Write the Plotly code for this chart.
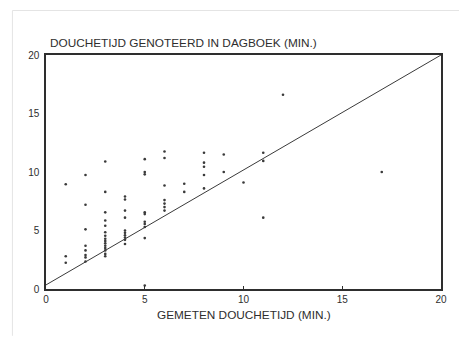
import plotly.graph_objects as go

# Measured (x) vs diary-recorded (y) shower time, minutes
measured = [1, 1, 1,
            2, 2, 2, 2, 2, 2, 2, 2,
            3, 3, 3, 3, 3, 3, 3, 3, 3, 3, 3, 3, 3, 3, 3,
            4, 4, 4, 4, 4, 4, 4, 4, 4, 4,
            5, 5, 5, 5, 5, 5, 5, 5, 5, 5,
            6, 6, 6, 6, 6, 6, 6,
            7, 7,
            8, 8, 8, 8, 8,
            9, 9,
            10,
            11, 11, 11,
            12,
            17]
diary = [8.95, 2.8, 2.25,
         9.75, 7.2, 5.1, 3.7, 3.3, 2.9, 2.7, 2.35,
         10.9, 8.3, 6.55, 5.85, 5.4, 4.85, 4.55, 4.3, 4.1, 3.9, 3.7, 3.5, 3.3, 3.0, 2.8,
         7.9, 7.65, 6.7, 6.1, 5.0, 4.8, 4.6, 4.4, 4.2, 3.85,
         11.1, 10.0, 9.8, 6.55, 6.4, 5.75, 5.55, 5.3, 4.35, 0.3,
         11.75, 11.2, 8.85, 7.6, 7.3, 7.0, 6.7,
         9.0, 8.3,
         11.65, 10.8, 10.45, 9.75, 8.6,
         11.5, 10.0,
         9.1,
         11.65, 10.95, 6.1,
         16.6,
         10.0]

fit_x = [0, 20]
fit_y = [0.35, 20]

x_ticks = [0, 5, 10, 15, 20]
y_ticks = [0, 5, 10, 15, 20]

ink = "#2e2e2e"
font = dict(family="Liberation Sans, Arial, sans-serif", size=10, color=ink)
title_font = dict(family="Liberation Sans, Arial, sans-serif", size=11.8, color=ink)

fig = go.Figure()
fig.add_trace(go.Scatter(x=fit_x, y=fit_y, mode="lines",
                         line=dict(color="#3a3a3a", width=1), hoverinfo="skip"))
fig.add_trace(go.Scatter(x=measured, y=diary, mode="markers",
                         marker=dict(size=2.6, color="#3a3a3a", line=dict(width=0))))

fig.update_layout(
    width=467, height=337,
    margin=dict(l=38, r=34, t=47, b=56),
    paper_bgcolor="white", plot_bgcolor="white",
    showlegend=False,
    font=font,
    xaxis=dict(range=[0, 20], tickvals=x_ticks, ticktext=[str(v) for v in x_ticks],
               showgrid=False, zeroline=False, showline=True, mirror=True,
               linecolor=ink, linewidth=1.5, ticks="inside", ticklen=3,
               tickcolor=ink, tickfont=font),
    yaxis=dict(range=[0, 20], tickvals=y_ticks, ticktext=[str(v) for v in y_ticks],
               showgrid=False, zeroline=False, showline=True, mirror=True,
               linecolor=ink, linewidth=1.5, ticks="", ticklabelstandoff=3,
               tickfont=font),
    annotations=[
        dict(text="DOUCHETIJD GENOTEERD IN DAGBOEK (MIN.)", xref="paper", yref="paper",
             x=0.005, y=1.051, xanchor="left", yanchor="middle", showarrow=False,
             font=title_font),
        dict(text="GEMETEN DOUCHETIJD (MIN.)", xref="paper", yref="paper",
             x=0.501, y=-0.111, xanchor="center", yanchor="middle", showarrow=False,
             font=title_font),
    ],
    shapes=[
        dict(type="line", xref="paper", yref="paper", x0=-0.085, x1=1.09, y0=1.19, y1=1.19,
             line=dict(color="#e4e4e4", width=1)),
        dict(type="line", xref="paper", yref="paper", x0=-0.085, x1=-0.085, y0=-0.2, y1=1.19,
             line=dict(color="#e4e4e4", width=1)),
    ],
)

fig.write_html("out.html")
